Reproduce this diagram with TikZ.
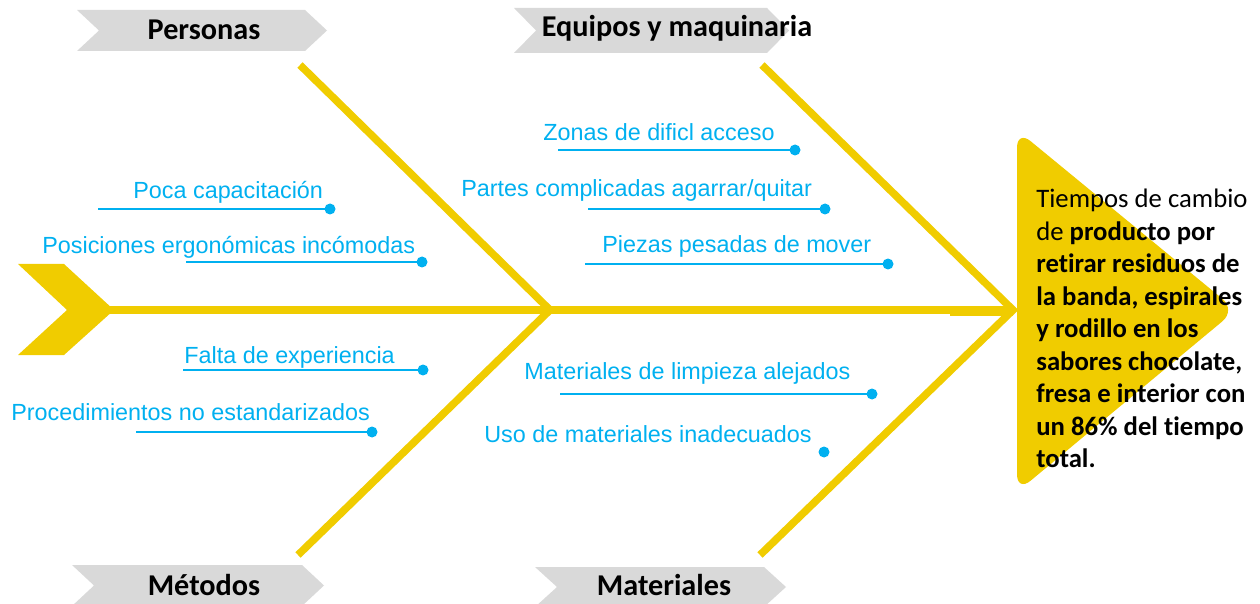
\documentclass[tikz,border=0pt]{standalone}
\usepackage{fontspec}
\setmainfont{Liberation Sans}
\newfontfamily\calibri[Ligatures=NoCommon]{Carlito}

\definecolor{bone}{RGB}{240,204,0}
\definecolor{tag}{RGB}{217,217,217}
\definecolor{cause}{RGB}{0,176,240}

\tikzset{
  boneline/.style={draw=bone, line width=4.3pt},
  causetext/.style={anchor=base west, inner sep=0pt, text=cause,
    font=\fontsize{13.3}{16}\selectfont},
  causeline/.style={draw=cause, line width=1pt},
  tagtext/.style={inner sep=0pt, font=\calibri\bfseries\fontsize{17.2}{20}\selectfont},
}

\begin{document}
\begin{tikzpicture}[x=0.02cm, y=-0.02cm]

    \def \dep {22} % depth of the tag point and notch
    \useasboundingbox (0,0) rectangle (1260,604);

    % grey category tags
    \foreach \n/\xl/\xr/\yt/\yb/\tx/\ty/\txt in {per/77/305/10/51/204/30/Personas,
        equ/514/767/8/53/677/28/Equipos y maquinaria,
        met/72/302/565/606/204/585/Métodos,
        mat/535/764/567/607/664/585/Materiales}
    {
      \fill[tag] (\xl,\yt) -- (\xr,\yt) -- (\xr+\dep,{(\yt+\yb)/2}) -- (\xr,\yb)
        -- (\xl,\yb) -- (\xl+\dep,{(\yt+\yb)/2}) -- cycle;
      \node[tagtext] (t\n) at (\tx,\ty) {\txt};
    }

    % tail and spine
    \fill[bone] (18,264) -- (64,264) -- (114,310) -- (64,355) -- (18,355) -- (67,310) -- cycle;
    \coordinate (tail) at (105,310);
    \coordinate (jl) at (550,310);
    \coordinate (jr) at (1013,310);
    \draw[boneline] (tail) -- (jr);
    \fill[bone] (950,310) rectangle (1013,316);

    % bones
    \coordinate (bper) at (300,65);
    \coordinate (bequ) at (762,65);
    \coordinate (bmet) at (298,555);
    \coordinate (bmat) at (760,555);
    \draw[boneline] (bper) -- (jl) -- (bmet);
    \draw[boneline] (bequ) -- (jr) -- (bmat);

    % head
    \fill[bone, rounded corners=10pt] (1017,130) -- (1236,310) -- (1017,492) -- cycle;
    \node[anchor=north west, inner sep=0pt, align=left,
      font=\calibri\fontsize{15.2}{18.5}\selectfont] (head) at (1036,189)
      {Tiempos de cambio\\ de \textbf{producto por}\\ \textbf{retirar residuos de}\\
       \textbf{la banda, espirales}\\ \textbf{y rodillo en los}\\
       \textbf{sabores chocolate,}\\ \textbf{fresa e interior con}\\
       \textbf{un 86\% del tiempo}\\ \textbf{total.}};

    % causes
    \foreach \n/\tx/\ty/\xa/\xb/\y/\txt in {a/133/199/98/330/209/Poca capacitación,
        b/42/254/186/422/262/Posiciones ergonómicas incómodas,
        c/184/363/183/423/370/Falta de experiencia,
        d/11/420/136/372/432/Procedimientos no estandarizados,
        e/543/141/558/795/150/Zonas de dificl acceso,
        f/461/197/588/825/209/{Partes complicadas agarrar/quitar},
        g/602/253/585/888/264/Piezas pesadas de mover,
        h/524/379/560/872/394/Materiales de limpieza alejados}
    {
      \node[causetext] (c\n) at (\tx,\ty) {\txt};
      \coordinate (s\n) at (\xa,\y);
      \coordinate (d\n) at (\xb,\y);
      \draw[causeline] (s\n) -- (d\n);
      \fill[cause] (d\n) circle (0.11cm);
    }
    \node[causetext] (ci) at (484,442) {Uso de materiales inadecuados};
    \coordinate (di) at (824,452);
    \fill[cause] (di) circle (0.11cm);
\end{tikzpicture}
\end{document}
